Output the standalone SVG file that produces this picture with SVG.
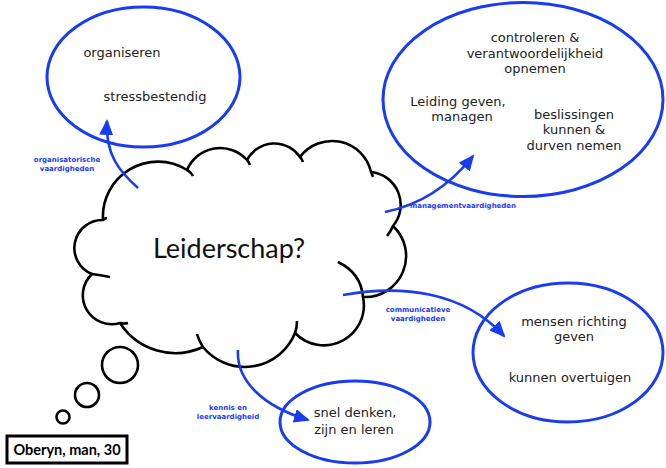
<svg xmlns="http://www.w3.org/2000/svg" width="666" height="468" viewBox="0 0 666 468">
<style>
.ell{fill:none;stroke:#1a3cf0;stroke-width:3}
.cl{fill:#fff;stroke:#000;stroke-width:2.6;stroke-linejoin:round}
.tl{fill:none;stroke:#000;stroke-width:2.6;stroke-linecap:butt}
.ci{fill:#fff;stroke:#000;stroke-width:2.6}
.t{font-family:"DejaVu Sans",Verdana,sans-serif;font-size:13px;fill:#222;text-anchor:middle}
.lb{font-family:"DejaVu Sans",Verdana,sans-serif;font-size:7px;font-weight:bold;fill:#1a3cf0;text-anchor:middle}
.ar{fill:none;stroke:#1a3cf0;stroke-width:2.6;marker-end:url(#ah)}
</style>
<defs>
<marker id="ah" markerUnits="userSpaceOnUse" markerWidth="16" markerHeight="14" refX="14" refY="7" orient="auto" viewBox="0 0 16 14">
<path d="M0,0 L16,7 L0,14 Z" fill="#1a3cf0"/>
</marker>
</defs>
<rect width="666" height="468" fill="#fff"/>
<g id="cloud">
<path class="cl" d="M103,220 A55,55 0 0 1 187,170 A36,36 0 0 1 247,160 A31,31 0 0 1 300,157 A40,40 0 0 1 371,172 A33,33 0 0 1 393,226 A41,41 0 0 1 363,297 A40,40 0 0 1 295,333 A54,54 0 0 1 203,347 A66,66 0 0 1 120,323 A29,29 0 0 1 92,274 A28,28 0 0 1 103,220 Z"/>
<path class="tl" d="M187,170 Q191,172 193,176 M247,160 Q249,162 250,165 M300,157 Q302,159 303,162 M371,172 Q372,174 373,177 M393,226 Q391,231 387,236 M363,297 Q361,273 338,262 M295,333 Q297,328 297,321 M203,347 Q199,341 197,334 M120,323 Q124,324 128,323 M92,274 Q100,275 110,277 M103,220 Q105,218 107,218"/>
<text x="229" y="258" style="font-family:Lato,'Liberation Sans',sans-serif;font-size:27px;fill:#111;text-anchor:middle">Leiderschap?</text>
</g>
<g id="bubbles">
<circle class="ci" cx="120" cy="365" r="18"/>
<circle class="ci" cx="87" cy="395" r="12"/>
<circle class="ci" cx="63" cy="417" r="6.5"/>
</g>
<g id="person">
<rect x="7" y="436" width="120" height="27" fill="#fff" stroke="#000" stroke-width="3"/>
<text x="67" y="455" style="font-family:Lato,'Liberation Sans',sans-serif;font-size:14.5px;font-weight:bold;fill:#000;text-anchor:middle">Oberyn, man, 30</text>
</g>
<g id="organisatorisch">
<ellipse class="ell" cx="143.5" cy="77" rx="96.5" ry="70"/>
<text class="t" x="122" y="57">organiseren</text>
<text class="t" x="155" y="101">stressbestendig</text>
</g>
<g id="management">
<ellipse class="ell" cx="523" cy="99.5" rx="140" ry="97"/>
<text class="t" x="535" y="42">controleren &amp;</text>
<text class="t" x="535" y="58">verantwoordelijkheid</text>
<text class="t" x="535" y="73">opnemen</text>
<text class="t" x="458" y="106">Leiding geven,</text>
<text class="t" x="462" y="121">managen</text>
<text class="t" x="574" y="119">beslissingen</text>
<text class="t" x="574" y="134">kunnen &amp;</text>
<text class="t" x="574" y="150">durven nemen</text>
</g>
<g id="communicatief">
<ellipse class="ell" cx="568" cy="352.5" rx="95" ry="69.5"/>
<text class="t" x="574" y="326">mensen richting</text>
<text class="t" x="574" y="341">geven</text>
<text class="t" x="570" y="382">kunnen overtuigen</text>
</g>
<g id="kennis">
<ellipse class="ell" cx="355" cy="422" rx="75" ry="41"/>
<text class="t" x="355" y="417">snel denken,</text>
<text class="t" x="354" y="434">zijn en leren</text>
</g>
<g id="connectors">
<path class="ar" d="M138,188 C120,172 105,155 107,121"/>
<path class="ar" d="M385,212 C420,205 450,185 473,156"/>
<path class="ar" d="M343,295 C400,285 462,290 504,336"/>
<path class="ar" d="M238,350 C236,380 262,406 308,420"/>
<text class="lb" x="67" y="162">organisatorische</text>
<text class="lb" x="67" y="171">vaardigheden</text>
<text class="lb" x="463" y="208">managementvaardigheden</text>
<text class="lb" x="418" y="312">communicatieve</text>
<text class="lb" x="418" y="321">vaardigheden</text>
<text class="lb" x="228" y="410">kennis en</text>
<text class="lb" x="228" y="419">leervaardigheid</text>
</g>
</svg>
